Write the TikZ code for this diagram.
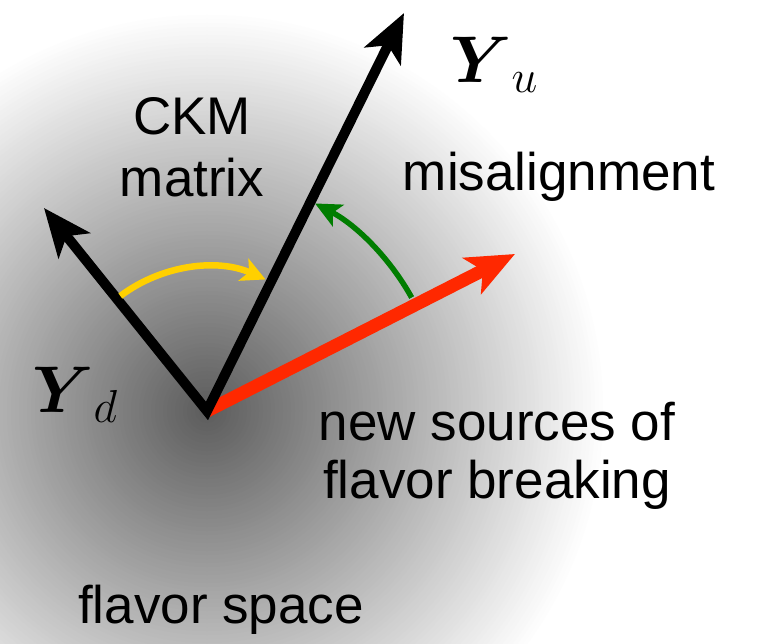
\RequirePackage{fix-cm}
\documentclass[tikz,border=0pt]{standalone}
\usepackage{amsmath}
\usepackage[no-math]{fontspec}
\setmainfont{Liberation Sans}
\usetikzlibrary{arrows.meta}
\definecolor{vecred}{RGB}{255,40,0}
\definecolor{arcyellow}{RGB}{255,208,0}
\definecolor{arcgreen}{RGB}{0,125,0}
\tikzset{
  vechead/.tip={Stealth[length=48pt,width=40pt,inset=12pt]},
  yhead/.tip={Stealth[length=24pt,width=24pt,inset=6pt]},
  ghead/.tip={Stealth[length=26pt,width=24pt,inset=6pt]},
  blackvec/.style={line width=10pt, line join=miter, draw=black, arrows={vechead-vechead}},
  redvec/.style={line width=13pt, draw=vecred, arrows={-vechead}},
  yellowarc/.style={line width=6.5pt, draw=arcyellow, arrows={-yhead}},
  greenarc/.style={line width=5.5pt, draw=arcgreen, arrows={-ghead}},
  lbl/.style={anchor=base, inner sep=0pt, font=\fontsize{53}{60}\selectfont},
  mathlbl/.style={anchor=base west, inner sep=0pt, font=\fontsize{66}{72}\selectfont}
}
\begin{document}
\begin{tikzpicture}[x=1pt,y=-1pt]
  \useasboundingbox (0,0) rectangle (758,644);
  \fill[white] (0,0) rectangle (758,644);
  \coordinate (O) at (207,411);
  \coordinate (tU) at (404,13);
  \coordinate (tD) at (44,208);
  \coordinate (tR) at (515,254);
  % radial gray background (linear falloff to white at r = 400)
  \begin{scope}
    \clip (0,0) rectangle (758,644);
    \foreach \r in {400,396,...,4} {
      \pgfmathsetmacro\pct{64.3*(1-\r/400)}
      \fill[black!\pct!white] (O) circle (\r);
    }
  \end{scope}
  % red vector
  \draw[redvec] (O) -- (tR);
  % black vectors
  \draw[blackvec] (tD) -- (O) -- (tU);
  % arcs
  \draw[yellowarc] (O) ++(-127:144) arc[start angle=-127, end angle=-66, radius=144];
  \draw[greenarc] (O) ++(-29:234) arc[start angle=-29, end angle=-62.5, radius=234];
  % labels
  \node[mathlbl] (Yu) at (450,83) {$\boldsymbol{Y}_{u}$};
  \node[mathlbl] (Yd) at (32,413) {$\boldsymbol{Y}_{d}$};
  \node[lbl] (ckm1) at (192,135) {CKM};
  \node[lbl] (ckm2) at (192,197) {matrix};
  \node[lbl] (mis) at (559,191) {misalignment};
  \node[lbl] (new1) at (497,440) {new sources of};
  \node[lbl] (new2) at (497,498) {flavor breaking};
  \node[lbl] (fs) at (221,623) {flavor space};
\end{tikzpicture}
\end{document}
